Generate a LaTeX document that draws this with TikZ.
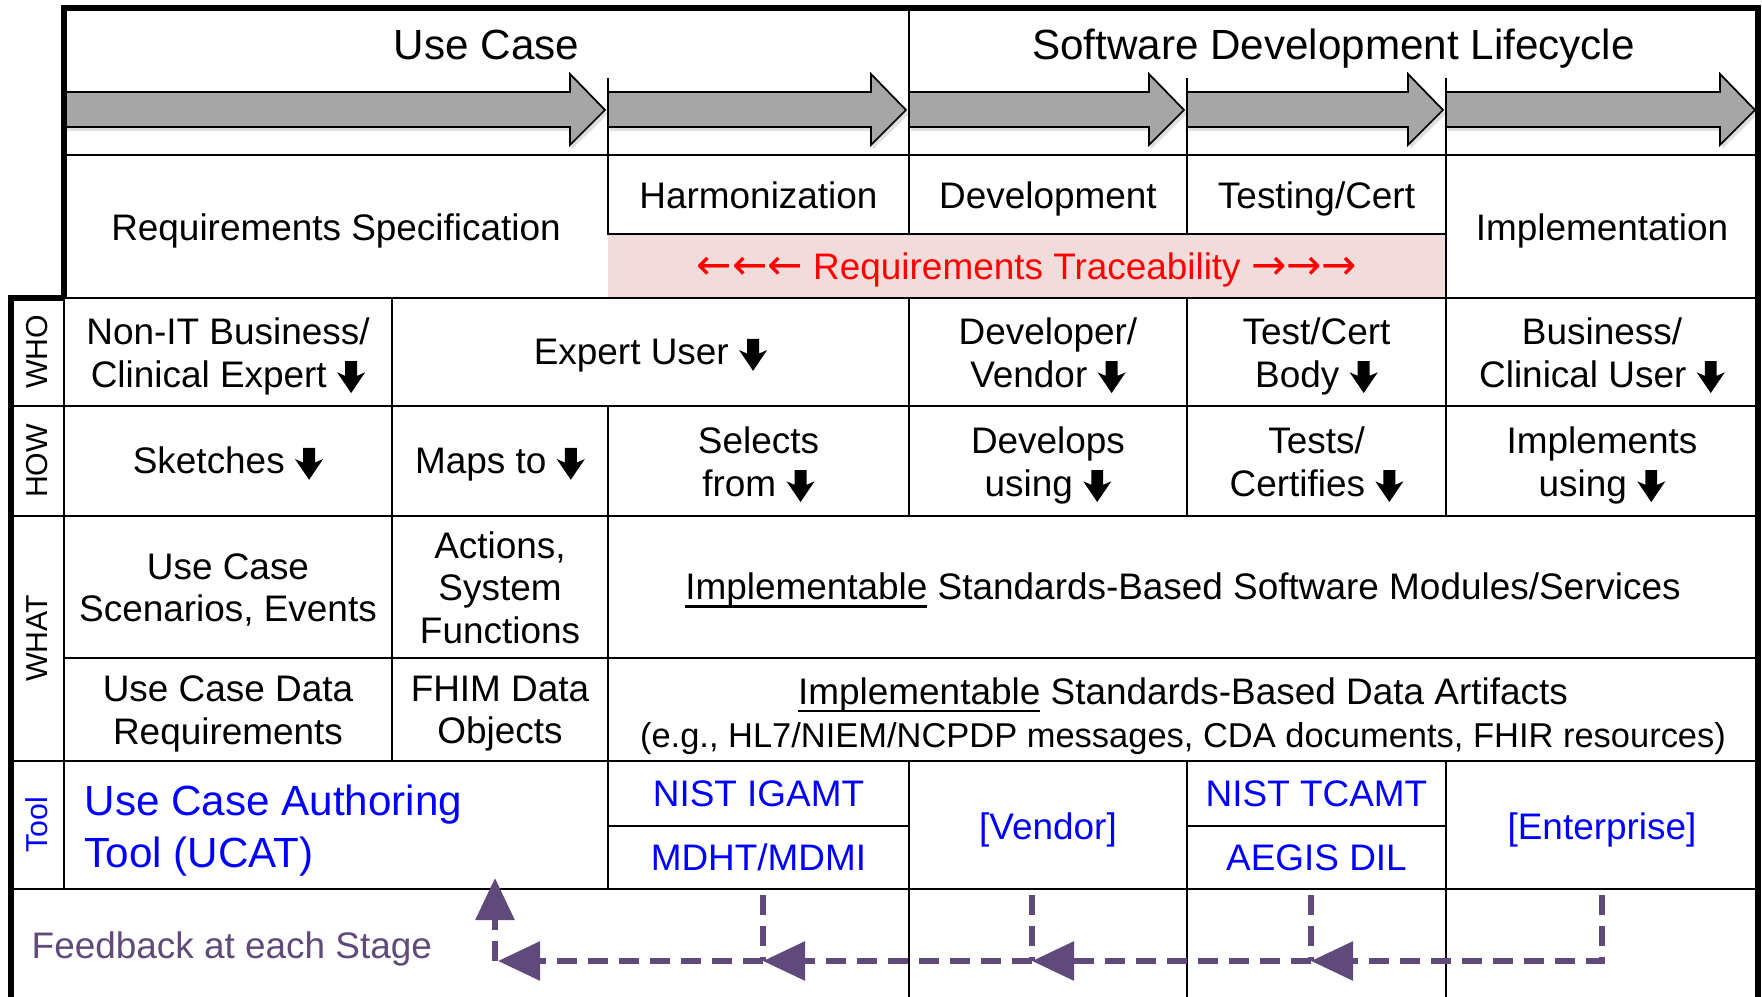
\documentclass[tikz,border=0pt]{standalone}
\usepackage{fontspec}
\setmainfont{Liberation Sans}
\newfontfamily\arrowfont{DejaVu Sans}
\usepackage{xcolor}
\usepackage{tikz}
\usetikzlibrary{arrows.meta}

\definecolor{stagegray}{HTML}{A6A6A6}
\definecolor{tracepink}{HTML}{F2DCDB}
\definecolor{fbpurple}{HTML}{604A7B}

% underline close under the baseline
\newsavebox{\ulbox}
\newcommand{\ulword}[1]{\sbox{\ulbox}{#1}\rlap{\rule[-2.3pt]{\wd\ulbox}{0.7pt}}\usebox{\ulbox}}
% line box of the font, so that cells are centred on ascent and descent
\newcommand{\cstrut}{\rule[-0.212em]{0pt}{1.117em}}
% heavy down arrow after the WHO/HOW texts
\newcommand{\dnarrow}{\tikz[baseline=0pt, x=1pt, y=1pt]
    \fill (-1.7,7.4) -- (1.7,7.4) -- (1.7,3.2) -- (4,4.2) -- (0,-1.7) -- (-4,4.2) -- (-1.7,3.2) -- cycle;}
\newcommand{\tracearrows}[1]{{\arrowfont\fontsize{12}{12}\selectfont #1}}

\tikzset{
    grid/.style={line width=0.8pt},
    border/.style={line width=1.8pt},
    strutted/.style={inner sep=0pt, execute at begin node=\cstrut, execute at end node=\cstrut},
    cell/.style={strutted, font=\fontsize{10.5}{12}\selectfont, align=center},
    lines/.style={yshift=-0.045cm},
    head/.style={strutted, font=\fontsize{12}{14}\selectfont},
    rowlabel/.style={strutted, font=\fontsize{8.6}{10}\selectfont, rotate=90},
    toolcell/.style={cell, text=blue},
    stagearrow/.style={fill=stagegray, draw=black, line width=0.5pt},
    fbline/.style={draw=fbpurple, line width=1.7pt, dash pattern=on 0.2cm off 0.11cm},
    fbtip/.style={-{Triangle[length=0.42cm, width=0.38cm]}, fbpurple}
}

\begin{document}
\begin{tikzpicture}[x=0.01cm, y=-0.01cm]
                \useasboundingbox (0,0) rectangle (1762,997);

                % headings and stage arrows
                \node[head] (usecase) at (486.5,44.5) {Use Case};
                \node[head] (sdlc) at (1333.5,44.5) {Software Development Lifecycle};
                \draw[grid] (909,8) -- (909,155);
                \foreach \xa/\xb in {64/608, 608/909, 909/1187, 1187/1446, 1446/1758} {
                    \fill[black!25, opacity=0.5]
                        (\xa+2,96) -- ({\xb-36},96) -- ({\xb-36},79) -- (\xb,114)
                        -- ({\xb-36},149) -- ({\xb-36},131) -- (\xa+2,131) -- cycle;
                    \draw[stagearrow]
                        (\xa,92) -- ({\xb-38},92) -- ({\xb-38},74) -- ({\xb-3},110)
                        -- ({\xb-38},145) -- ({\xb-38},127) -- (\xa,127) -- cycle;
                }
                \foreach \x in {608,1187,1446}
                    \draw[grid] (\x,78) -- (\x,155);
                \draw[grid] (64,155) -- (1758,155);

                % stages
                \fill[tracepink] (608,234) rectangle (1446,298);
                \draw[grid] (608,155) -- (608,234) -- (1446,234);
                \draw[grid] (909,155) -- (909,234);
                \draw[grid] (1187,155) -- (1187,234);
                \draw[grid] (1446,155) -- (1446,298);
                \node[cell] (reqspec) at (336,228) {Requirements Specification};
                \node[cell] (harmon) at (758.5,196) {Harmonization};
                \node[cell] (develop) at (1048,196) {Development};
                \node[cell] (testcert) at (1316.5,196) {Testing/Cert};
                \node[cell] (implem) at (1602,228) {Implementation};
                \node[cell, text=red] (trace) at (1027,267) {\tracearrows{←←←} Requirements Traceability \tracearrows{→→→}};

                % WHO
                \draw[grid] (11,298) rectangle (64,406) node[pos=.5, rowlabel] (who) {WHO};
                \draw[grid] (64,298) rectangle (392,406) node[pos=.5, cell, lines] (whoclin) {Non-IT Business/\\Clinical Expert \dnarrow};
                \draw[grid] (392,298) rectangle (909,406) node[pos=.5, cell] (whoexp) {Expert User \dnarrow};
                \draw[grid] (909,298) rectangle (1187,406) node[pos=.5, cell, lines] (whodev) {Developer/\\Vendor \dnarrow};
                \draw[grid] (1187,298) rectangle (1446,406) node[pos=.5, cell, lines] (whotest) {Test/Cert\\Body \dnarrow};
                \draw[grid] (1446,298) rectangle (1758,406) node[pos=.5, cell, lines] (whobus) {Business/\\Clinical User \dnarrow};

                % HOW
                \draw[grid] (11,406) rectangle (64,516) node[pos=.5, rowlabel] (how) {HOW};
                \draw[grid] (64,406) rectangle (392,516) node[pos=.5, cell] (howsketch) {Sketches \dnarrow};
                \draw[grid] (392,406) rectangle (608,516) node[pos=.5, cell] (howmap) {Maps to \dnarrow};
                \draw[grid] (608,406) rectangle (909,516) node[pos=.5, cell, lines] (howsel) {Selects\\from \dnarrow};
                \draw[grid] (909,406) rectangle (1187,516) node[pos=.5, cell, lines] (howdev) {Develops\\using \dnarrow};
                \draw[grid] (1187,406) rectangle (1446,516) node[pos=.5, cell, lines] (howtest) {Tests/\\Certifies \dnarrow};
                \draw[grid] (1446,406) rectangle (1758,516) node[pos=.5, cell, lines] (howimpl) {Implements\\using \dnarrow};

                % WHAT
                \draw[grid] (11,516) rectangle (64,761) node[pos=.5, rowlabel] (what) {WHAT};
                \draw[grid] (64,516) rectangle (392,658) node[pos=.5, cell, lines] (whatscen) {Use Case\\Scenarios, Events};
                \draw[grid] (392,516) rectangle (608,658) node[pos=.5, cell, lines] (whatfunc) {Actions,\\System\\Functions};
                \draw[grid] (608,516) rectangle (1758,658) node[pos=.5, cell] (whatmod) {\ulword{Implementable} Standards-Based Software Modules/Services};
                \draw[grid] (64,658) rectangle (392,761) node[pos=.5, cell, lines] (whatdata) {Use Case Data\\Requirements};
                \draw[grid] (392,658) rectangle (608,761) node[pos=.5, cell, lines] (whatfhim) {FHIM Data\\Objects};
                \draw[grid] (608,658) rectangle (1758,761) node[pos=.5, cell, yshift=-0.07cm] (whatart) {\ulword{Implementable} Standards-Based Data Artifacts\\[0.4pt]{\fontsize{9.8}{11.3}\selectfont (e.g., HL7/NIEM/NCPDP messages, CDA documents, FHIR resources)}};

                % Tool
                \draw[grid] (11,761) rectangle (64,889) node[pos=.5, rowlabel, text=blue] (tool) {Tool};
                \draw[grid] (64,761) rectangle (608,889);
                \node[strutted, lines, anchor=west, align=left, text=blue, font=\fontsize{12}{14.7}\selectfont] (ucat) at (84,826.5) {Use Case Authoring\\Tool (UCAT)};
                \draw[grid] (608,761) rectangle (909,826) node[pos=.5, toolcell] (igamt) {NIST IGAMT};
                \draw[grid] (608,826) rectangle (909,889) node[pos=.5, toolcell] (mdht) {MDHT/MDMI};
                \draw[grid] (909,761) rectangle (1187,889) node[pos=.5, toolcell, yshift=-0.02cm] (vendor) {[Vendor]};
                \draw[grid] (1187,761) rectangle (1446,826) node[pos=.5, toolcell] (tcamt) {NIST TCAMT};
                \draw[grid] (1187,826) rectangle (1446,889) node[pos=.5, toolcell] (aegis) {AEGIS DIL};
                \draw[grid] (1446,761) rectangle (1758,889) node[pos=.5, toolcell, yshift=-0.02cm] (enterp) {[Enterprise]};

                % feedback
                \foreach \x in {909,1187,1446}
                    \draw[grid] (\x,889) -- (\x,997);
                \node[cell, anchor=west, text=fbpurple] (feedback) at (31,946) {Feedback at each Stage};
                \coordinate (fbE) at (1602,895);
                \coordinate (fbT) at (1311,895);
                \coordinate (fbV) at (1032,895);
                \coordinate (fbM) at (763,895);
                \coordinate (jT) at (1311,961);
                \coordinate (jV) at (1032,961);
                \coordinate (jM) at (763,961);
                \coordinate (jU) at (495,961);
                \coordinate (ucatin) at (495,878);
                \draw[fbline, fbtip] (fbE) |- (jT);
                \draw[fbline] (fbT) -- (jT);
                \draw[fbline, fbtip] (jT) -- (jV);
                \draw[fbline] (fbV) -- (jV);
                \draw[fbline, fbtip] (jV) -- (jM);
                \draw[fbline] (fbM) -- (jM);
                \draw[fbline, fbtip] (jM) -- ([xshift=0.03cm]jU);
                \draw[fbline, fbtip] (jU) -- (ucatin);

                % outer frame
                \draw[border] (64,298) -- (64,8) -- (1758,8) -- (1758,997);
                \draw[border] (64,298) -- (11,298) -- (11,997);
\end{tikzpicture}
\end{document}
